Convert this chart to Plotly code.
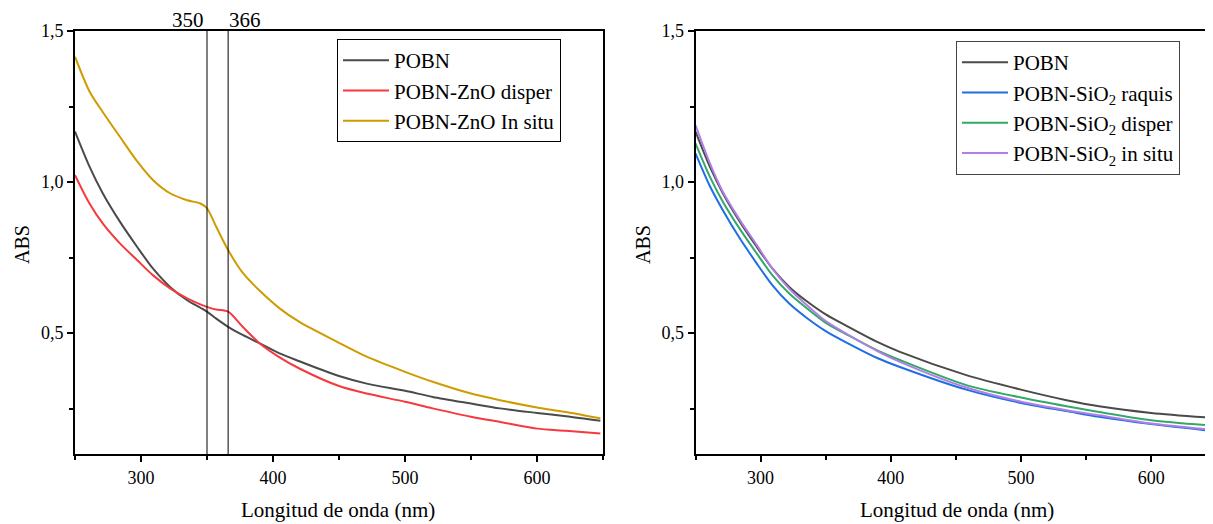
import plotly.graph_objects as go

# ---------------- data ----------------
wl_left = [250, 261, 271, 284, 297, 309, 322, 335, 345, 350, 357, 366, 377, 390,
           405, 420, 450, 471, 500, 521, 550, 572, 600, 622, 648]
abs_pobn_l = [1.167, 1.051, 0.963, 0.869, 0.786, 0.714, 0.653, 0.609, 0.584, 0.571,
              0.548, 0.521, 0.494, 0.466, 0.433, 0.407, 0.358, 0.333, 0.309, 0.289,
              0.267, 0.251, 0.236, 0.225, 0.210]
abs_zno_disper = [1.023, 0.929, 0.863, 0.797, 0.742, 0.692, 0.648, 0.615, 0.595, 0.587,
                  0.578, 0.571, 0.521, 0.466, 0.420, 0.383, 0.325, 0.300, 0.273, 0.251,
                  0.223, 0.206, 0.184, 0.177, 0.168]
abs_zno_insitu = [1.415, 1.300, 1.232, 1.150, 1.069, 1.007, 0.963, 0.940, 0.929, 0.913,
                  0.852, 0.775, 0.700, 0.640, 0.582, 0.537, 0.468, 0.422, 0.372, 0.339,
                  0.300, 0.278, 0.254, 0.239, 0.218]

wl_right = [250, 261, 271, 284, 297, 309, 322, 335, 350, 366, 390, 407, 458, 500, 535,
            560, 600, 650]
abs_pobn_r = [1.167, 1.051, 0.963, 0.869, 0.786, 0.714, 0.653, 0.607, 0.562, 0.524,
              0.470, 0.438, 0.361, 0.313, 0.278, 0.258, 0.236, 0.219]
abs_sio2_raquis = [1.095, 0.987, 0.907, 0.814, 0.731, 0.659, 0.598, 0.552, 0.507, 0.469,
                   0.417, 0.388, 0.313, 0.269, 0.242, 0.223, 0.199, 0.175]
abs_sio2_disper = [1.128, 1.018, 0.935, 0.845, 0.764, 0.692, 0.631, 0.584, 0.534, 0.496,
                   0.442, 0.411, 0.328, 0.287, 0.258, 0.239, 0.212, 0.193]
abs_sio2_insitu = [1.189, 1.063, 0.968, 0.875, 0.792, 0.714, 0.647, 0.595, 0.540, 0.498,
                   0.440, 0.405, 0.320, 0.273, 0.245, 0.228, 0.201, 0.179]

marker_wl = [350, 366]

names_left = ["POBN", "POBN-ZnO disper", "POBN-ZnO In situ"]
names_right = ["POBN", "POBN-SiO<sub>2</sub> raquis", "POBN-SiO<sub>2</sub> disper",
               "POBN-SiO<sub>2</sub> in situ"]
colors_left = ["#4a4a4a", "#f5393f", "#cf9b00"]
colors_right = ["#4a4a4a", "#1f6fe3", "#33a867", "#b07ee6"]

x_title = "Longitud de onda (nm)"
y_title = "ABS"

FONT = "Liberation Serif, Times New Roman, serif"

# page has an 8px body margin -> figure is 1205x516, offset by 8px
W, H = 1205, 516

fig = go.Figure()

for ys, nm, col in zip([abs_pobn_l, abs_zno_disper, abs_zno_insitu], names_left, colors_left):
    fig.add_trace(go.Scatter(x=wl_left, y=ys, name=nm, mode="lines",
                             line=dict(color=col, width=2, shape="spline", smoothing=0.8),
                             xaxis="x", yaxis="y", legend="legend"))

for ys, nm, col in zip([abs_pobn_r, abs_sio2_raquis, abs_sio2_disper, abs_sio2_insitu],
                       names_right, colors_right):
    fig.add_trace(go.Scatter(x=wl_right, y=ys, name=nm, mode="lines",
                             line=dict(color=col, width=2, shape="spline", smoothing=0.8),
                             xaxis="x2", yaxis="y2", legend="legend2"))

# vertical reference lines + labels
for w in marker_wl:
    fig.add_shape(type="line", xref="x", yref="y domain", x0=w, x1=w, y0=0, y1=1,
                  line=dict(color="black", width=1))
label_y = (H - 12) / H
fig.add_annotation(x=marker_wl[0], xref="x", y=label_y, yref="paper", text=str(marker_wl[0]),
                   showarrow=False, xanchor="right", yanchor="middle",
                   font=dict(family=FONT, size=21, color="black"), xshift=-1)
fig.add_annotation(x=marker_wl[1], xref="x", y=label_y, yref="paper", text=str(marker_wl[1]),
                   showarrow=False, xanchor="left", yanchor="middle",
                   font=dict(family=FONT, size=21, color="black"), xshift=-1)

# axis titles
title_font_x = dict(family=FONT, size=21, color="black")
title_font_y = dict(family=FONT, size=20, color="black")
for xc in [329.5 / W, 948.5 / W]:
    fig.add_annotation(x=xc, xref="paper", y=(H - 502) / H, yref="paper", text=x_title,
                       showarrow=False, xanchor="center", yanchor="middle", font=title_font_x)
for xc in [14 / W, 635 / W]:
    fig.add_annotation(x=xc, xref="paper", y=(H - 237) / H, yref="paper", text=y_title,
                       showarrow=False, xanchor="center", yanchor="middle", textangle=-90,
                       font=title_font_y)

tickfont = dict(family=FONT, size=18, color="black")

common_x = dict(showgrid=False, zeroline=False, showline=True, linecolor="black", linewidth=2,
                ticks="outside", ticklen=6, tickwidth=2, tickcolor="black", automargin=False,
                tick0=300, dtick=100, tickfont=tickfont,
                minor=dict(ticks="outside", ticklen=4, tickwidth=2, tickcolor="black", dtick=50, tick0=250))
common_y = dict(showgrid=False, zeroline=False, showline=True, linecolor="black", linewidth=2,
                ticks="outside", ticklen=6, tickwidth=2, tickcolor="black", automargin=False,
                range=[0.1, 1.5], tick0=0.5, dtick=0.5, tickformat=".1f", tickfont=tickfont,
                minor=dict(ticks="outside", ticklen=4, tickwidth=2, tickcolor="black", dtick=0.25, tick0=0.25))

ydom = [(H - 446) / H, (H - 23) / H]

fig.update_layout(
    width=W, height=H,
    margin=dict(l=0, r=0, t=0, b=0, autoexpand=False),
    paper_bgcolor="white", plot_bgcolor="white",
    separators=",.",
    font=dict(family=FONT, color="black"),
    xaxis=dict(common_x, domain=[67 / W, 595 / W], range=[250, 650], mirror=True, anchor="y"),
    yaxis=dict(common_y, domain=ydom, mirror=True, anchor="x"),
    xaxis2=dict(common_x, domain=[687.5 / W, 1.0], range=[250, 647.5], mirror=True, anchor="y2"),
    yaxis2=dict(common_y, domain=ydom, mirror=False, anchor="x2"),
    legend=dict(x=329 / W, y=(H - 31) / H, xanchor="left", yanchor="top",
                bordercolor="black", borderwidth=1, bgcolor="white",
                font=dict(family=FONT, size=21, color="black"), tracegroupgap=0,
                itemwidth=46),
    legend2=dict(x=948 / W, y=(H - 33) / H, xanchor="left", yanchor="top",
                 bordercolor="#444444", borderwidth=1, bgcolor="white",
                 font=dict(family=FONT, size=21, color="black"), tracegroupgap=0,
                 itemwidth=46),
)

fig.write_html("out.html")
